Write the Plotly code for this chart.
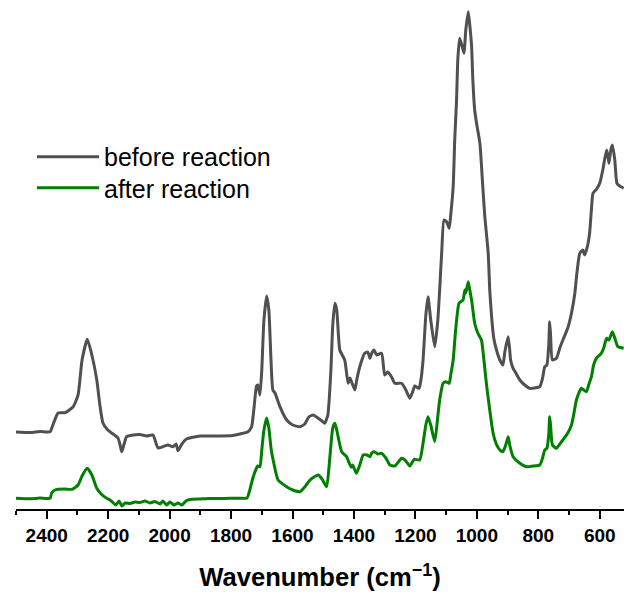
import plotly.graph_objects as go

# ---- data (wavenumber in cm-1, absorbance in a.u., offset spectra) ----
wavenumber_before = [
    2500, 2454, 2422, 2389, 2380, 2363, 2340, 2314, 2298, 2285,
    2268, 2253, 2237, 2227, 2217, 2201, 2189, 2168, 2162, 2156,
    2149, 2140, 2119, 2097, 2074, 2054, 2038, 2022, 2005, 1989,
    1979, 1973, 1960, 1945, 1901, 1853, 1794, 1771, 1745, 1733,
    1726, 1717, 1713, 1706, 1700, 1693, 1684, 1677, 1670, 1664,
    1657, 1641, 1619, 1599, 1576, 1560, 1547, 1533, 1517, 1504,
    1495, 1485, 1475, 1469, 1462, 1456, 1446, 1430, 1419, 1413,
    1408, 1397, 1391, 1381, 1365, 1355, 1348, 1342, 1335, 1326,
    1310, 1300, 1290, 1278, 1267, 1245, 1231, 1218, 1208, 1202,
    1188, 1182, 1175, 1166, 1159, 1150, 1137, 1127, 1121, 1114,
    1107, 1098, 1090, 1085, 1077, 1072, 1066, 1062, 1056, 1049,
    1042, 1036, 1028, 1023, 1017, 1013, 1007, 1000, 990, 981,
    974, 963, 958, 952, 945, 936, 925, 915, 909, 898,
    893, 890, 882, 873, 860, 844, 828, 812, 795, 786,
    779, 772, 766, 763, 760, 754, 741, 730, 720, 704,
    692, 681, 675, 665, 655, 649, 639, 633, 626, 622,
    610, 600, 590, 578, 574, 570, 564, 559, 551, 544,
    535, 522,
]
absorbance_before = [
    0.77, 0.765, 0.775, 0.773, 0.84, 0.96, 0.963, 1.023, 1.14, 1.49,
    1.697, 1.54, 1.29, 1.04, 0.86, 0.79, 0.76, 0.71, 0.65, 0.573,
    0.64, 0.723, 0.74, 0.745, 0.73, 0.74, 0.61, 0.623, 0.64, 0.623,
    0.65, 0.583, 0.65, 0.70, 0.73, 0.73, 0.735, 0.75, 0.773, 0.823,
    0.99, 1.23, 1.24, 1.14, 1.39, 1.89, 2.13, 1.99, 1.49, 1.19,
    1.16, 1.023, 0.89, 0.84, 0.823, 0.85, 0.92, 0.94, 0.91, 0.88,
    0.857, 0.94, 1.39, 1.84, 2.057, 1.99, 1.59, 1.49, 1.257, 1.31,
    1.273, 1.19, 1.29, 1.423, 1.557, 1.57, 1.507, 1.56, 1.59, 1.54,
    1.557, 1.34, 1.37, 1.323, 1.257, 1.257, 1.19, 1.107, 1.18, 1.23,
    1.207, 1.29, 1.49, 1.94, 2.123, 1.89, 1.623, 1.89, 2.19, 2.59,
    2.89, 2.87, 2.807, 2.94, 3.223, 3.69, 4.09, 4.49, 4.707, 4.64,
    4.557, 4.79, 4.973, 4.84, 4.623, 4.29, 3.99, 3.84, 3.657, 3.24,
    2.923, 2.557, 2.19, 1.923, 1.71, 1.59, 1.49, 1.44, 1.57, 1.723,
    1.59, 1.49, 1.407, 1.36, 1.29, 1.24, 1.207, 1.21, 1.223, 1.31,
    1.423, 1.44, 1.64, 1.873, 1.74, 1.49, 1.507, 1.61, 1.69, 1.81,
    1.957, 2.157, 2.34, 2.557, 2.59, 2.54, 2.64, 2.757, 3.04, 3.157,
    3.20, 3.257, 3.39, 3.59, 3.54, 3.457, 3.59, 3.64, 3.49, 3.257,
    3.23, 3.207,
]

wavenumber_after = [
    2500, 2454, 2422, 2389, 2384, 2373, 2363, 2340, 2318, 2298,
    2285, 2268, 2253, 2237, 2223, 2205, 2194, 2184, 2175, 2165,
    2155, 2145, 2129, 2113, 2097, 2080, 2064, 2048, 2031, 2022,
    2009, 1999, 1986, 1973, 1960, 1947, 1934, 1901, 1869, 1836,
    1804, 1771, 1748, 1739, 1729, 1717, 1713, 1706, 1700, 1693,
    1684, 1677, 1670, 1663, 1647, 1619, 1599, 1576, 1560, 1543,
    1530, 1516, 1504, 1489, 1482, 1475, 1469, 1462, 1456, 1440,
    1424, 1417, 1408, 1404, 1392, 1381, 1370, 1358, 1348, 1342,
    1335, 1322, 1310, 1296, 1283, 1267, 1245, 1234, 1218, 1208,
    1202, 1186, 1176, 1166, 1159, 1150, 1137, 1126, 1121, 1110,
    1101, 1090, 1085, 1077, 1069, 1058, 1045, 1039, 1036, 1028,
    1023, 1017, 1007, 997, 985, 977, 969, 958, 947, 938,
    925, 915, 906, 898, 893, 882, 860, 839, 818, 795,
    786, 779, 772, 766, 763, 760, 754, 741, 730, 720,
    704, 692, 685, 676, 668, 660, 652, 643, 636, 627,
    620, 611, 595, 587, 578, 570, 559, 551, 541, 522,
]
absorbance_after = [
    0.107, 0.102, 0.11, 0.107, 0.16, 0.19, 0.197, 0.20, 0.197, 0.24,
    0.33, 0.407, 0.34, 0.207, 0.15, 0.107, 0.09, 0.063, 0.04, 0.08,
    0.03, 0.06, 0.055, 0.07, 0.065, 0.08, 0.06, 0.075, 0.05, 0.08,
    0.04, 0.07, 0.04, 0.06, 0.04, 0.08, 0.095, 0.10, 0.105, 0.105,
    0.107, 0.107, 0.11, 0.19, 0.31, 0.41, 0.43, 0.423, 0.59, 0.79,
    0.91, 0.81, 0.61, 0.49, 0.29, 0.223, 0.19, 0.173, 0.22, 0.29,
    0.32, 0.34, 0.30, 0.223, 0.39, 0.64, 0.81, 0.857, 0.79, 0.573,
    0.523, 0.47, 0.417, 0.44, 0.357, 0.44, 0.54, 0.54, 0.523, 0.56,
    0.573, 0.55, 0.557, 0.51, 0.44, 0.43, 0.507, 0.49, 0.43, 0.48,
    0.497, 0.49, 0.64, 0.84, 0.923, 0.84, 0.673, 0.957, 1.09, 1.257,
    1.273, 1.257, 1.34, 1.49, 1.79, 2.057, 2.09, 2.19, 2.16, 2.273,
    2.19, 2.09, 1.857, 1.76, 1.69, 1.49, 1.257, 0.99, 0.757, 0.66,
    0.59, 0.573, 0.64, 0.723, 0.64, 0.523, 0.457, 0.423, 0.43, 0.44,
    0.51, 0.59, 0.607, 0.74, 0.923, 0.84, 0.64, 0.607, 0.65, 0.69,
    0.76, 0.84, 0.94, 1.09, 1.16, 1.207, 1.19, 1.173, 1.24, 1.323,
    1.44, 1.507, 1.557, 1.61, 1.707, 1.69, 1.773, 1.71, 1.623, 1.607,
]

series_names = ["before reaction", "after reaction"]
series_colors = ["#505050", "#008000"]

assert len(wavenumber_before) == len(absorbance_before)
assert len(wavenumber_after) == len(absorbance_after)

FONT = "Liberation Sans, Arial, sans-serif"

fig = go.Figure()
for name, color, xs, ys, leg in [
    (series_names[0], series_colors[0], wavenumber_before, absorbance_before, "legend"),
    (series_names[1], series_colors[1], wavenumber_after, absorbance_after, "legend2"),
]:
    fig.add_trace(go.Scatter(
        x=xs, y=ys, mode="lines", name=name, legend=leg,
        line=dict(color=color, width=3, shape="spline", smoothing=0.5),
        hoverinfo="skip",
    ))

legend_style = dict(
    xanchor="left", yanchor="middle",
    font=dict(family=FONT, size=25, color="black"),
    bgcolor="rgba(0,0,0,0)", borderwidth=0,
    itemwidth=62,
)

fig.update_layout(
    width=624, height=592,
    margin=dict(l=16, r=0, t=0, b=83),
    paper_bgcolor="white", plot_bgcolor="white",
    font=dict(family=FONT, color="black"),
    showlegend=True,
    legend=dict(x=0.0263, y=0.6916, **legend_style),
    legend2=dict(x=0.0263, y=0.6306, **legend_style),
    xaxis=dict(
        range=[2500, 521],
        showline=True, linecolor="black", linewidth=1.5,
        ticks="outside", ticklen=8, tickwidth=1.5, tickcolor="black",
        tick0=0, dtick=200,
        minor=dict(ticks="outside", ticklen=4, tickwidth=1.5, tickcolor="black", dtick=100, tick0=0),
        showgrid=False, zeroline=False,
        tickfont=dict(family=FONT, size=19, color="black", weight="bold"),
        title=dict(text="Wavenumber (cm<sup>−1</sup>)",
                   font=dict(family=FONT, size=25.6, color="black", weight="bold"),
                   standoff=24),
        automargin=False,
    ),
    yaxis=dict(visible=False, range=[0, 5.09], fixedrange=True),
)

fig.write_html("out.html")
